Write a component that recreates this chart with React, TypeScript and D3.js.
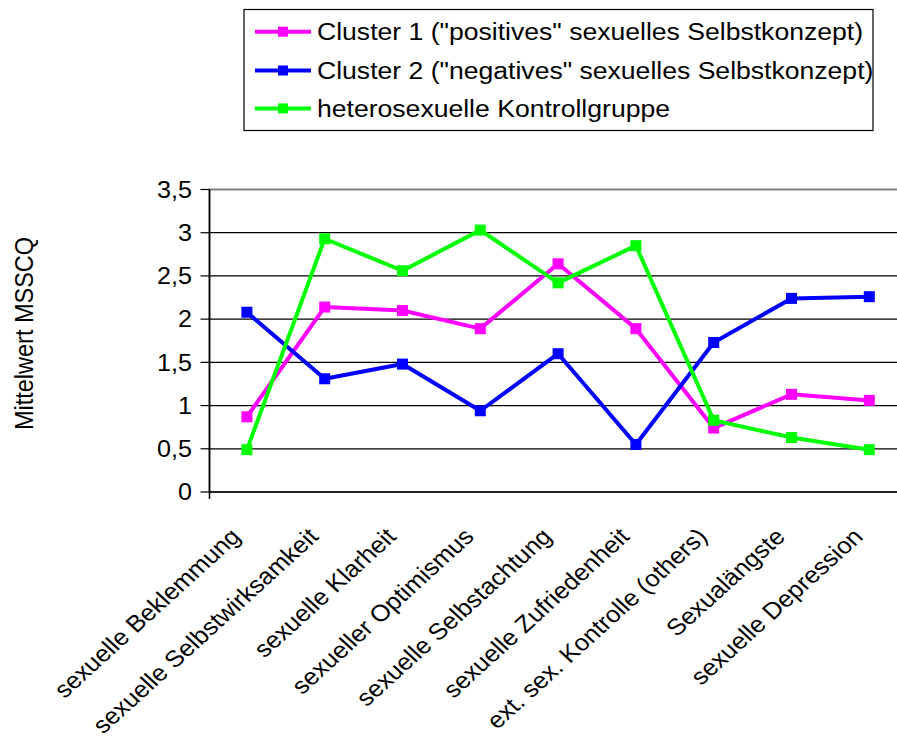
import React from "react";
import * as d3 from "d3";

const categories = [
  "sexuelle Beklemmung",
  "sexuelle Selbstwirksamkeit",
  "sexuelle Klarheit",
  "sexueller Optimismus",
  "sexuelle Selbstachtung",
  "sexuelle Zufriedenheit",
  "ext. sex. Kontrolle (others)",
  "Sexualängste",
  "sexuelle Depression",
];
const cluster1 = [0.87, 2.14, 2.1, 1.89, 2.64, 1.89, 0.74, 1.13, 1.06];
const cluster2 = [2.08, 1.31, 1.48, 0.94, 1.6, 0.55, 1.73, 2.24, 2.26];
const control = [0.49, 2.93, 2.56, 3.03, 2.42, 2.85, 0.83, 0.63, 0.49];
const seriesNames = [
  'Cluster 1 ("positives" sexuelles Selbstkonzept)',
  'Cluster 2 ("negatives" sexuelles Selbstkonzept)',
  "heterosexuelle Kontrollgruppe",
];
const seriesColors = ["#FF00FF", "#0000FF", "#00FF00"];
const yTicks = [0, 0.5, 1, 1.5, 2, 2.5, 3, 3.5];
const yTickLabels = ["0", "0,5", "1", "1,5", "2", "2,5", "3", "3,5"];
const yTitle = "Mittelwert MSSCQ";

const W = 897;
const H = 740;
const FONT = "'Liberation Sans', Arial, sans-serif";

export default function App() {
  const plotLeft = 208;
  const band = 77.8;
  const x = d3
    .scaleBand<string>()
    .domain(categories)
    .range([plotLeft, plotLeft + band * categories.length])
    .padding(0);
  const y = d3.scaleLinear().domain([0, 3.5]).range([492, 189.5]);
  const cx = (c: string) => (x(c) as number) + x.bandwidth() / 2;
  const axisX = 209.5;

  const allSeries = [cluster1, cluster2, control];
  const line = d3
    .line<number>()
    .x((_, i) => cx(categories[i]))
    .y((v) => y(v));

  const ms = 11;
  const legendRows = [31.7, 70.5, 108.4];

  return (
    <svg
      width={W}
      height={H}
      style={{ position: "absolute", left: 0, top: 0, background: "#fff" }}
      fontFamily={FONT}
    >
      <rect x={0} y={0} width={W} height={H} fill="#fff" />
      {/* plot area border */}
      <rect
        x={axisX}
        y={y(3.5)}
        width={x.range()[1] - axisX}
        height={y(0) - y(3.5)}
        fill="none"
        stroke="#808080"
        strokeWidth={2}
      />
      {/* gridlines */}
      {yTicks
        .filter((t) => t > 0 && t < 3.5)
        .map((t) => (
          <line
            key={"g" + t}
            x1={axisX}
            x2={x.range()[1]}
            y1={y(t)}
            y2={y(t)}
            stroke="#000"
            strokeWidth={1.2}
          />
        ))}
      {/* axes */}
      <line x1={axisX} x2={x.range()[1]} y1={y(0)} y2={y(0)} stroke="#000" strokeWidth={1.5} />
      <line x1={axisX} x2={axisX} y1={y(3.5)} y2={y(0) + 7} stroke="#000" strokeWidth={1.5} />
      {yTicks.map((t, i) => (
        <g key={"t" + t}>
          <line x1={axisX - 9} x2={axisX} y1={y(t)} y2={y(t)} stroke="#000" strokeWidth={1.2} />
          <text
            transform={`translate(192,${y(t) + 8.3}) scale(1.08,1)`}
            textAnchor="end"
            fontSize={23.3}
            fill="#000"
          >
            {yTickLabels[i]}
          </text>
        </g>
      ))}
      {/* y title */}
      <text
        transform={`translate(33,333.5) scale(1.08,1) rotate(-90)`}
        textAnchor="middle"
        fontSize={23.5}
        fill="#000"
      >
        {yTitle}
      </text>
      {/* category labels */}
      {categories.map((c) => (
        <text
          key={c}
          transform={`translate(${cx(c) - 5},538) scale(1.1,1) rotate(-45)`}
          textAnchor="end"
          fontSize={23.3}
          fill="#000"
        >
          {c}
        </text>
      ))}
      {/* series */}
      {allSeries.map((s, si) => (
        <g key={"s" + si}>
          <path
            d={line(s) || ""}
            fill="none"
            stroke={seriesColors[si]}
            strokeWidth={4}
            strokeLinejoin="round"
          />
          {s.map((v, i) => (
            <rect
              key={i}
              x={cx(categories[i]) - ms / 2}
              y={y(v) - ms / 2}
              width={ms}
              height={ms}
              fill={seriesColors[si]}
            />
          ))}
        </g>
      ))}
      {/* legend */}
      <rect x={244} y={9.5} width={629} height={121} fill="#fff" stroke="#000" strokeWidth={1.2} />
      {seriesNames.map((n, i) => (
        <g key={n}>
          <line
            x1={255}
            x2={311}
            y1={legendRows[i]}
            y2={legendRows[i]}
            stroke={seriesColors[i]}
            strokeWidth={4}
          />
          <rect x={283 - 5} y={legendRows[i] - 5} width={10} height={10} fill={seriesColors[i]} />
          <text
            transform={`translate(317,${legendRows[i] + 8.3}) scale(1.085,1)`}
            fontSize={24.5}
            fill="#000"
          >
            {n}
          </text>
        </g>
      ))}
    </svg>
  );
}
